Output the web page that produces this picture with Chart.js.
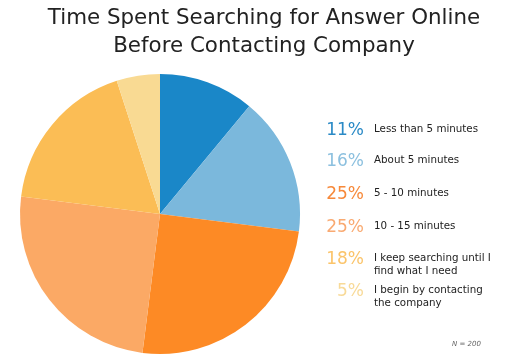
<!DOCTYPE html>
<html><head><meta charset="utf-8">
<script src="https://cdn.jsdelivr.net/npm/chart.js@4"></script>
<style>
html,body{margin:0;padding:0;background:#fff;}
#wrap{position:relative;width:512px;height:360px;overflow:hidden;font-family:"DejaVu Sans",Verdana,sans-serif;}
#c{position:absolute;left:0;top:0;}
.title{position:absolute;left:16px;width:496px;text-align:center;font-size:21.4px;color:#222;line-height:28px;}
.pct{position:absolute;width:60px;text-align:right;font-size:17px;line-height:20px;}
.lab{position:absolute;font-size:10.3px;color:#222;line-height:13px;}
#note{position:absolute;left:452px;top:340px;font-size:7px;font-style:italic;color:#666;}
</style></head><body>
<div id="wrap">
<canvas id="c" width="512" height="360"></canvas>
<div class="title" style="top:3px">Time Spent Searching for Answer Online</div>
<div class="title" style="top:31px">Before Contacting Company</div>
<div id="legend"></div>
<div id="note">N = 200</div>
</div>
<script>
const categories = ["Less than 5 minutes","About 5 minutes","5 - 10 minutes","10 - 15 minutes","I keep searching until I find what I need","I begin by contacting the company"];
const legendLines = [["Less than 5 minutes"],["About 5 minutes"],["5 - 10 minutes"],["10 - 15 minutes"],["I keep searching until I","find what I need"],["I begin by contacting","the company"]];
const values = [11,16,25,25,18,5];
const sliceColors = ["#1a87c8","#7bb8dc","#fd8a25","#fba965","#fbbd55","#f9da93"];
const pctColors = ["#2a8ac6","#8cc0df","#f7893a","#f9aa72","#fbc46a","#f8da98"];
const rowTops = [119,150,183,216,248,280];

new Chart(document.getElementById('c'),{
  type:'pie',
  data:{labels:categories,datasets:[{data:values,backgroundColor:sliceColors,borderWidth:0}]},
  options:{
    responsive:false,animation:false,
    layout:{padding:{left:20,right:212,top:74,bottom:6}},
    plugins:{legend:{display:false},title:{display:false},tooltip:{enabled:false}}
  }
});

const lg=document.getElementById('legend');
values.forEach((v,i)=>{
  const p=document.createElement('div');
  p.className='pct';p.style.left='304px';p.style.top=rowTops[i]+'px';
  p.style.color=pctColors[i];p.textContent=v+'%';lg.appendChild(p);
  const l=document.createElement('div');
  l.className='lab';l.style.left='374px';l.style.top=(rowTops[i]+3)+'px';
  l.innerHTML=legendLines[i].join('<br>');lg.appendChild(l);
});
</script>
</body></html>
